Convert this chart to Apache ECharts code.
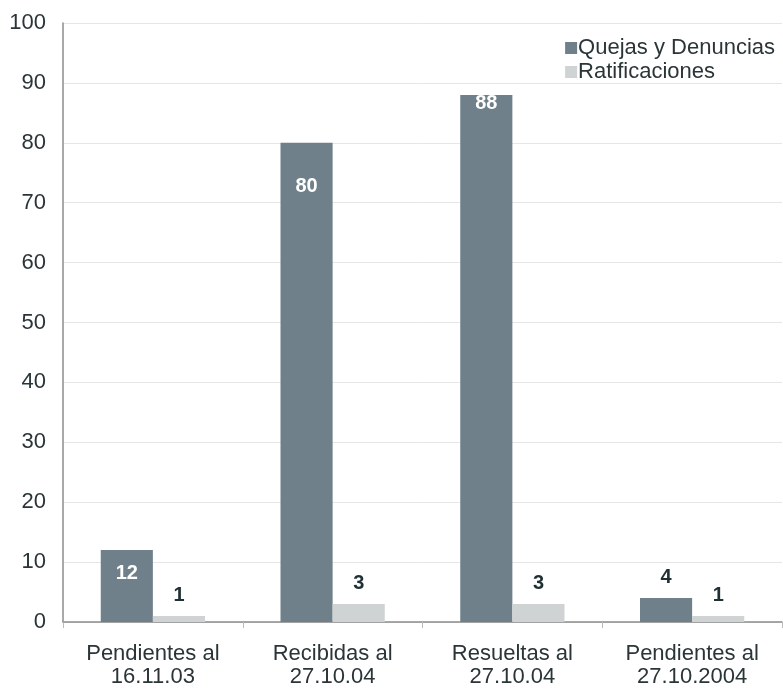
<!DOCTYPE html>
<html><head><meta charset="utf-8">
<script src="https://cdn.jsdelivr.net/npm/echarts@6/dist/echarts.min.js"></script>
<style>html,body{margin:0;padding:0;background:#fff}#c{width:783px;height:689px}</style>
</head><body><div id="c"></div>
<script>
const categories = ['Pendientes al\n16.11.03', 'Recibidas al\n27.10.04', 'Resueltas al\n27.10.04', 'Pendientes al\n27.10.2004'];
const quejas = [12, 80, 88, 4];
const ratificaciones = [1, 3, 3, 1];
const yTicks = {min: 0, max: 100, interval: 10};

const font = 'Liberation Sans, Arial, sans-serif';
const quejasLabelOffsets = [23, 44, 9, null];

const chart = echarts.init(document.getElementById('c'));
chart.setOption({
  animation: false,
  grid: {left: 63, right: 1, top: 23, bottom: 67},
  legend: {
    orient: 'vertical', right: 3, top: 32, itemWidth: 12, itemHeight: 12, itemGap: 2,
    icon: 'rect',
    textStyle: {fontFamily: font, fontSize: 22, color: '#2b3538', padding: [0, 0, 0, -4]},
    data: ['Quejas y Denuncias', 'Ratificaciones']
  },
  xAxis: {
    type: 'category', data: categories,
    axisLine: {lineStyle: {color: '#8c8c8c', width: 1.5}},
    axisTick: {show: true, length: 6, lineStyle: {color: '#bbb'}},
    axisLabel: {fontFamily: font, fontSize: 22, color: '#2b3538', lineHeight: 23, margin: 20}
  },
  yAxis: {
    type: 'value', min: yTicks.min, max: yTicks.max, interval: yTicks.interval,
    axisLine: {show: true, lineStyle: {color: '#8c8c8c', width: 1.5}},
    axisTick: {show: false},
    splitLine: {lineStyle: {color: '#e6e6e6'}},
    axisLabel: {fontFamily: font, fontSize: 22, color: '#2b3538', margin: 17}
  },
  series: [
    {
      name: 'Quejas y Denuncias', type: 'bar', barGap: '0%', barCategoryGap: '42%',
      itemStyle: {color: '#6f808b'},
      data: quejas.map((v, i) => {
        const off = quejasLabelOffsets[i];
        return {
          value: v,
          label: off === null
            ? {show: true, position: 'top', distance: 11, color: '#1f2f33', fontWeight: 'bold', fontSize: 20, fontFamily: font}
            : {show: true, position: 'insideTop', distance: off - 10, color: '#ffffff', fontWeight: 'bold', fontSize: 20, fontFamily: font}
        };
      })
    },
    {
      name: 'Ratificaciones', type: 'bar',
      itemStyle: {color: '#cfd3d4'},
      label: {show: true, position: 'top', distance: 11, color: '#1f2f33', fontWeight: 'bold', fontSize: 20, fontFamily: font},
      data: ratificaciones
    }
  ]
});
</script></body></html>
